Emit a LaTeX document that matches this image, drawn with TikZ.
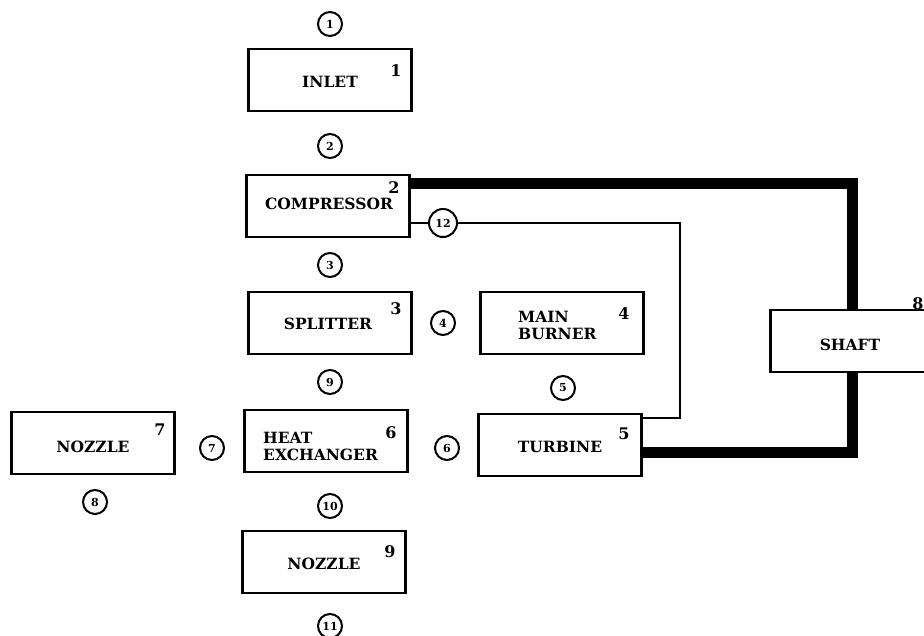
\documentclass[tikz,border=0pt]{standalone}
\usepackage{fontspec}
\newfontfamily\blkfont{DejaVu Serif}
\begin{document}
\begin{tikzpicture}[x=1pt,y=-1pt,
  blk/.style={draw,line width=2.4pt,minimum width=163pt,minimum height=62pt,inner sep=0pt},
  num/.style={inner sep=0pt,font=\blkfont\bfseries\fontsize{16}{17}\selectfont},
  lbl/.style={inner sep=0pt,font=\blkfont\bfseries\fontsize{15.5}{17}\selectfont},
  stn/.style={draw,circle,line width=2pt,minimum size=24pt,inner sep=0pt,
    font=\blkfont\bfseries\fontsize{11}{12}\selectfont},
  thin/.style={line width=2.2pt},
  heavy/.style={line width=11pt,line join=miter}]
\useasboundingbox (0,0) rectangle (924,635);
\clip (0,0) rectangle (924,635);
% boxes
\node[blk] (inlet) at (330,80) {};
\node[lbl] at (330,82) {INLET};
\node[num] at (396,71) {1};
\node[blk] (comp) at (328,206) {};
\node[lbl] at (329,204) {COMPRESSOR};
\node[num] at (394,188) {2};
\node[blk] (split) at (330,323) {};
\node[lbl] at (328,324) {SPLITTER};
\node[num] at (396,309) {3};
\node[blk] (burn) at (562,323) {};
\node[lbl,align=left,anchor=west] at (518,325) {MAIN\\BURNER};
\node[num] at (624,314) {4};
\node[blk] (turb) at (560,445) {};
\node[lbl] at (560,447) {TURBINE};
\node[num] at (624,434) {5};
\node[blk] (hx) at (326,441) {};
\node[lbl,align=left,anchor=west] at (263,446) {HEAT\\EXCHANGER};
\node[num] at (391,433) {6};
\node[blk] (noz7) at (93,443) {};
\node[lbl] at (93,447) {NOZZLE};
\node[num] at (160,430) {7};
\node[blk] (noz9) at (324,562) {};
\node[lbl] at (324,564) {NOZZLE};
\node[num] at (390,552) {9};
\node[blk] (shaft) at (852,341) {};
\node[lbl] at (850,345) {SHAFT};
\node[num] at (918,304) {8};
% stations
\node[stn] (s1) at (330,24) {1};
\node[stn] (s2) at (330,146) {2};
\node[stn] (s3) at (330,265) {3};
\node[stn] (s4) at (443,323) {4};
\node[stn] (s5) at (563,388) {5};
\node[stn] (s6) at (447,448) {6};
\node[stn] (s7) at (212,448) {7};
\node[stn] (s8) at (95,502) {8};
\node[stn] (s9) at (330,382) {9};
\node[stn] (s10) at (330,506) {10};
\node[stn] (s11) at (330,626) {11};
\node[stn,minimum width=28pt] (s12) at (443,223) {12};
% shaft connections
\coordinate (ta) at (852,183);
\coordinate (tb) at (852,452);
\draw[heavy] (comp.east |- ta) -- (ta) -- (shaft.north);
\draw[heavy] (shaft.south) -- (tb) -- (tb -| turb.east);
% bleed line
\coordinate (ka) at (680,224);
\coordinate (kb) at (680,418);
\draw[thin] (comp.east |- s12) -- (s12.west);
\draw[thin,line join=miter] (s12.east) -- (s12.east -| ka) -- (kb) -- (kb -| turb.east);
\end{tikzpicture}
\end{document}
